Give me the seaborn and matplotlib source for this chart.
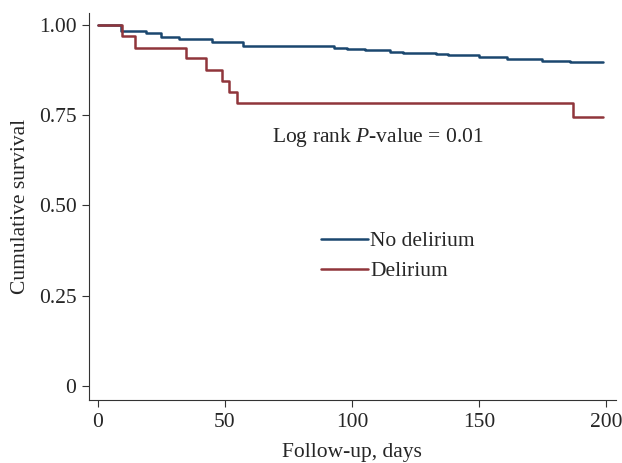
import matplotlib
matplotlib.use("Agg")
import matplotlib.pyplot as plt
import pandas as pd
import seaborn as sns

# Kaplan-Meier step points
no_delirium_days = [0, 9, 19, 25, 32, 45, 57, 93, 98, 105, 115, 120, 133, 138, 150, 161, 175, 186, 199]
no_delirium_surv = [1.0, 0.983, 0.977, 0.967, 0.961, 0.952, 0.942, 0.935, 0.932, 0.930, 0.925, 0.921,
                    0.918, 0.916, 0.910, 0.905, 0.901, 0.898, 0.898]
delirium_days = [0, 9.5, 14.6, 34.6, 42.5, 48.8, 51.7, 54.6, 187, 199]
delirium_surv = [1.0, 0.968, 0.937, 0.907, 0.875, 0.845, 0.814, 0.783, 0.745, 0.745]

group_names = ["No delirium", "Delirium"]
group_colors = ["#1a476f", "#90353b"]
x_ticks = [0, 50, 100, 150, 200]
y_ticks = [0, 0.25, 0.5, 0.75, 1.0]
y_ticklabels = ["0", "0.25", "0.50", "0.75", "1.00"]

df = pd.concat([
    pd.DataFrame({"days": no_delirium_days, "surv": no_delirium_surv, "group": group_names[0]}),
    pd.DataFrame({"days": delirium_days, "surv": delirium_surv, "group": group_names[1]}),
])

sns.set_style("ticks")
plt.rcParams["font.family"] = ["Liberation Serif", "DejaVu Serif"]
plt.rcParams["mathtext.fontset"] = "custom"
plt.rcParams["mathtext.rm"] = "Liberation Serif"
plt.rcParams["mathtext.it"] = "Liberation Serif:italic"

fs = 15.5
fig = plt.figure(figsize=(6.22, 4.63), dpi=100)
ax = fig.add_axes([0.143, 0.136, 0.847, 0.836])

sns.lineplot(data=df, x="days", y="surv", hue="group", hue_order=group_names,
             palette=group_colors, drawstyle="steps-post", linewidth=1.8,
             estimator=None, ax=ax)

ax.set_xlim(-3.55, 203.9)
ax.set_ylim(-0.039, 1.033)
ax.set_xticks(x_ticks)
ax.set_yticks(y_ticks)
ax.set_yticklabels(y_ticklabels)
ax.tick_params(labelsize=fs, length=5, width=0.8, color="#333333", pad=4)
ax.set_xlabel("Follow-up, days", fontsize=fs, labelpad=8)
ax.set_ylabel("Cumulative survival", fontsize=fs, labelpad=6)
for side in ["top", "right"]:
    ax.spines[side].set_visible(False)
for side in ["left", "bottom"]:
    ax.spines[side].set_linewidth(0.8)
    ax.spines[side].set_color("#333333")

ax.text(110, 0.687, "Log rank $\\it{P}$-value = 0.01", fontsize=fs, ha="center", va="center")

leg = ax.legend(loc="upper left", bbox_to_anchor=(0.44, 0.436), frameon=False, fontsize=fs,
                handlelength=2.2, handletextpad=0.1, labelspacing=0.45, title=None,
                borderaxespad=0, borderpad=0)

fig.savefig("out.png", dpi=100)
